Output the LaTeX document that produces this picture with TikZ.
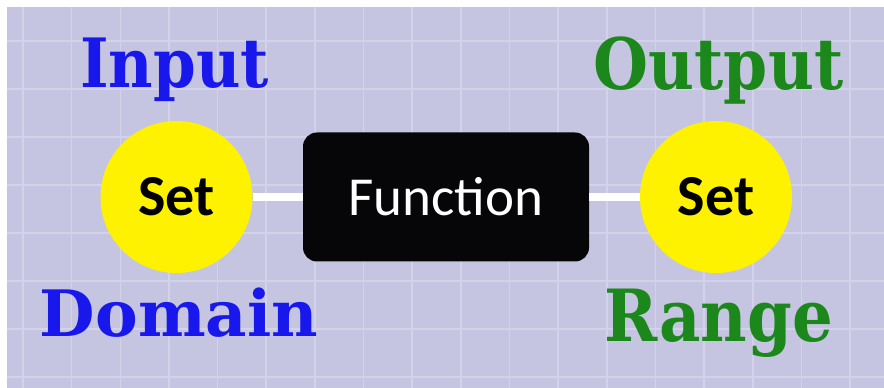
\documentclass[tikz,border=0pt]{standalone}
\usepackage{fontspec}
\setmainfont{DejaVu Serif}
\newfontfamily\slabfont{DejaVu Serif}[BoldFont={* Bold}]
\newfontfamily\calfont{Carlito}
\definecolor{paper}{RGB}{197,197,225}
\definecolor{gridline}{RGB}{210,210,234}
\definecolor{inblue}{RGB}{24,24,236}
\definecolor{outgreen}{RGB}{28,136,28}
\definecolor{setyellow}{RGB}{255,242,0}
\definecolor{boxblack}{RGB}{6,6,8}
\tikzset{
  heading/.style={anchor=base, inner sep=0pt},
  setdisk/.style={circle, fill=setyellow, minimum size=152pt, inner sep=0pt,
    font=\calfont\bfseries\fontsize{58}{58}\selectfont, text=black},
  funcbox/.style={rectangle, rounded corners=14pt, fill=boxblack,
    minimum width=286pt, minimum height=129pt, inner sep=0pt,
    font=\calfont\fontsize{55}{55}\selectfont, text=white},
  link/.style={draw=white, line width=8pt}
}
% a bold slab heading: name, position, colour, size, horizontal scale, text
\newcommand{\slablabel}[6]{%
  \node[heading, text=#3, font=\slabfont\bfseries\fontsize{#4}{#4}\selectfont, xscale=#5]
    (#1) at (#2) {#6};}
\begin{document}
\begin{tikzpicture}[x=1pt,y=1pt]
  \useasboundingbox (0,0) rectangle (884,388);
  \fill[white] (0,0) rectangle (884,388);
  \fill[paper] (7,0) rectangle (884,381);
  % faint square grid
  \foreach \k in {0,...,17}
    \draw[gridline, line width=1.6pt] ({23+48.65*\k},0) -- ({23+48.65*\k},381);
  \foreach \k in {0,...,7}
    \draw[gridline, line width=1.6pt] (7,{347-48*\k}) -- (884,{347-48*\k});

  % the mapping chain
  \node[setdisk] (inset) at (176.5,191) {Set};
  \node[funcbox] (func) at (446,191) {Function};
  \node[setdisk] (outset) at (716,191) {Set};
  \draw[link] (inset) -- (func);
  \draw[link] (func) -- (outset);

  % headings above and below
  \slablabel{input}{174.5,300}{inblue}{68}{0.9}{Input}
  \slablabel{output}{718.5,298}{outgreen}{71}{0.89}{Output}
  \slablabel{domain}{179,51}{inblue}{64}{1}{Domain}
  \slablabel{range}{719,46}{outgreen}{72}{0.89}{Range}
\end{tikzpicture}
\end{document}
